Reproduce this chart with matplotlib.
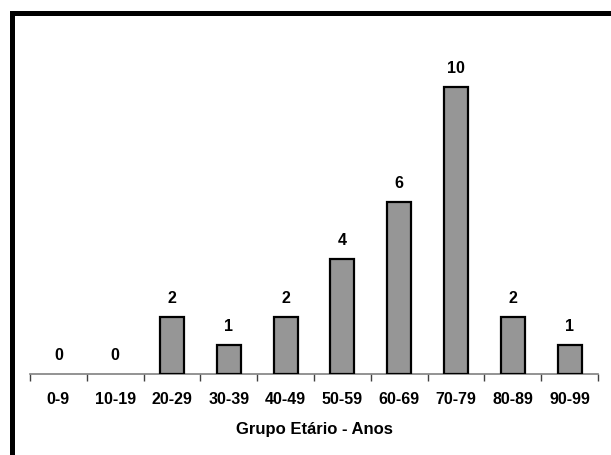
import matplotlib.pyplot as plt
import numpy as np
from matplotlib.lines import Line2D

plt.rcParams['font.family'] = ['Liberation Sans', 'DejaVu Sans']
plt.rcParams['font.weight'] = 'bold'

# Faixas etarias e numero de casos
faixas = ['0-9', '10-19', '20-29', '30-39', '40-49', '50-59', '60-69', '70-79', '80-89', '90-99']
casos = [0, 0, 2, 1, 2, 4, 6, 10, 2, 1]

fig = plt.figure(figsize=(6.11, 4.55), dpi=100)
ax = fig.add_axes([30 / 611, 1 - 374 / 455, 568 / 611, 344 / 455])

x = np.arange(len(faixas))
bars = ax.bar(x, casos, width=0.42, color='#969696', edgecolor='black', linewidth=1.6, zorder=3)
# barras com valor zero nao aparecem
for b, v in zip(bars, casos):
    if v == 0:
        b.set_visible(False)

for xi, v in zip(x, casos):
    ax.annotate(str(v), (xi, v), xytext=(0, 8), textcoords='offset points',
                ha='center', va='bottom', fontsize=11.5, fontweight='bold')

ax.set_xlim(-0.5, len(faixas) - 0.5)
ax.set_ylim(0, 12)
ax.set_yticks([])
for s in ['top', 'right', 'left']:
    ax.spines[s].set_visible(False)
ax.spines['bottom'].set_color('#808080')
ax.spines['bottom'].set_linewidth(1.2)

ax.set_xticks(x)
ax.set_xticklabels(faixas, fontsize=11.5, fontweight='bold')
ax.tick_params(axis='x', which='major', length=0, pad=13)
ax.set_xticks(np.arange(-0.5, len(faixas)), minor=True)
ax.tick_params(axis='x', which='minor', length=5, width=1, color='#404040', direction='out')
ax.set_xlabel('Grupo Etário - Anos', fontsize=12, fontweight='bold', labelpad=11)

# moldura preta (apenas topo e esquerda)
fig.add_artist(Line2D([11.5 / 611, 11.5 / 611], [0, 1 - 12.5 / 455], color='black', lw=3.6,
                      solid_capstyle='projecting', transform=fig.transFigure))
fig.add_artist(Line2D([11.5 / 611, 1], [1 - 12.5 / 455, 1 - 12.5 / 455], color='black', lw=3.6,
                      solid_capstyle='projecting', transform=fig.transFigure))

fig.savefig('out.png', dpi=100)
